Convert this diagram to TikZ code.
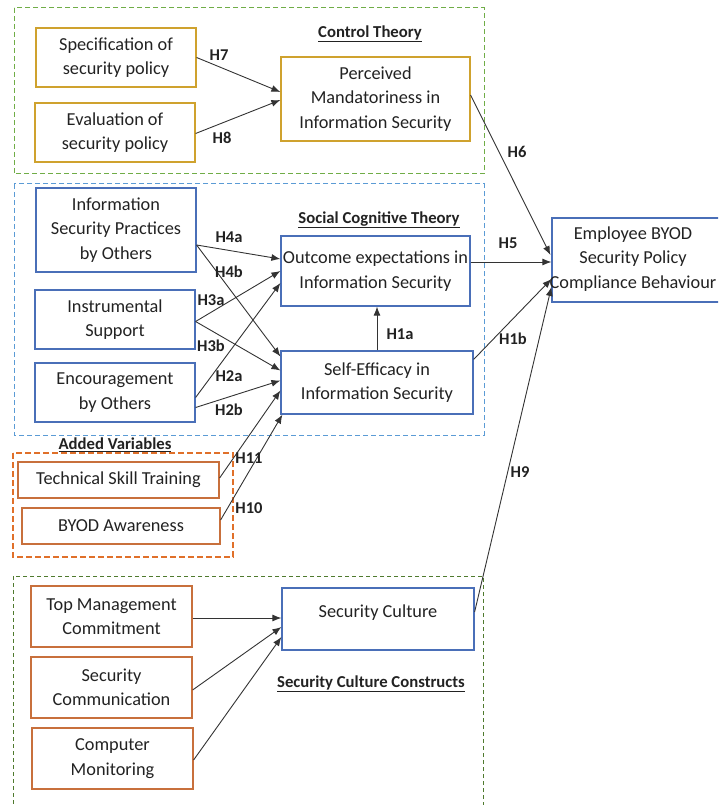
\documentclass[tikz,border=0pt]{standalone}
\usepackage{fontspec}
\setmainfont{Carlito}
\usetikzlibrary{arrows.meta,calc}
\definecolor{goldc}{HTML}{CFA22E}
\definecolor{bluec}{HTML}{4A6FB8}
\definecolor{brownc}{HTML}{C8703C}
\definecolor{lgreen}{HTML}{70AD47}
\definecolor{dgreen}{HTML}{4F7A2E}
\definecolor{lblue}{HTML}{5B9BD5}
\definecolor{orangec}{HTML}{E0702A}
\definecolor{txt}{HTML}{222222}
\tikzset{
  box/.style={draw, line width=1.2pt, align=center, inner sep=2pt, text=txt,
    font=\fontsize{18.3}{24.5}\selectfont},
  goldbox/.style={box, draw=goldc},
  bluebox/.style={box, draw=bluec},
  brownbox/.style={box, draw=brownc},
  grp/.style={line width=1pt, dash pattern=on 5pt off 3pt},
  title/.style={font=\fontsize{16.7}{20}\selectfont\bfseries, text=txt},
  hlab/.style={font=\fontsize{16.5}{20}\selectfont\bfseries, text=txt, inner sep=0pt},
  plain/.style={text=txt, font=\fontsize{18.3}{24.5}\selectfont, inner sep=0pt, align=center},
  arr/.style={-{Latex[length=9pt,width=7pt]}, line width=0.9pt, draw=black!80},
}
\begin{document}
\begin{tikzpicture}[x=1pt,y=-1pt]
\useasboundingbox (0,0) rectangle (718,805);
\clip (0,0) rectangle (718,805);
% group containers
\draw[grp, draw=lgreen] (14,8) rectangle (484,174);
\draw[grp, draw=lblue] (14,184) rectangle (484,435);
\draw[grp, draw=orangec, line width=1.2pt, dash pattern=on 6pt off 3pt] (13,453) rectangle (233,557);
\draw[grp, draw=dgreen, dash pattern=on 4pt off 3pt] (13,576) rectangle (483,820);
% titles
\node[title] (tct) at (370,34) {\underline{Control Theory}};
\node[title] (tsct) at (379,220) {\underline{Social Cognitive Theory}};
\node[title] (tav) at (115,445) {\underline{Added Variables}};
\node[title] (tscc) at (371,684) {\underline{Security Culture Constructs}};
% boxes
\node[goldbox, minimum width=160pt, minimum height=59pt] (spec) at (116,57.5) {Specification of\\security policy};
\node[goldbox, minimum width=160pt, minimum height=59pt] (eval) at (115,132.5) {Evaluation of\\security policy};
\node[goldbox, minimum width=189pt, minimum height=84pt] (pmis) at (375.5,99) {Perceived\\Mandatoriness in\\Information Security};
\node[bluebox, minimum width=160pt, minimum height=84pt] (isp) at (116,230) {Information\\Security Practices\\by Others};
\node[bluebox, minimum width=160pt, minimum height=59pt] (instr) at (115,319.5) {Instrumental\\Support};
\node[bluebox, minimum width=160pt, minimum height=59pt] (enc) at (115,392.5) {Encouragement\\by Others};
\node[bluebox, minimum width=189pt, minimum height=70pt] (out) at (375.5,271) {Outcome expectations in\\Information Security};
\node[bluebox, minimum width=192pt, minimum height=63pt] (se) at (377,382.5) {Self-Efficacy in\\Information Security};
\node[brownbox, minimum width=201pt, minimum height=36pt] (tech) at (118.5,480) {Technical Skill Training};
\node[brownbox, minimum width=198pt, minimum height=36pt] (byod) at (121,526) {BYOD Awareness};
\node[brownbox, minimum width=161pt, minimum height=61pt] (tmc) at (111.5,616.5) {Top Management\\Commitment};
\node[brownbox, minimum width=161pt, minimum height=61pt] (scomm) at (111.5,687.5) {Security\\Communication};
\node[brownbox, minimum width=161pt, minimum height=61pt] (cmon) at (112.5,758.5) {Computer\\Monitoring};
\node[bluebox, minimum width=192pt, minimum height=62pt] (sc) at (378,619) {};
\node[plain] (sclab) at (378,613) {Security Culture};
\node[bluebox, minimum width=170pt, minimum height=84pt] (emp) at (637,260) {};
\node[plain] (emplab) at (633,259) {Employee BYOD\\Security Policy\\Compliance Behaviour};
% arrows
\draw[arr] (spec.east) -- ($(pmis.west)+(0,-7)$);
\draw[arr] ($(eval.east)+(0,1)$) -- ($(pmis.west)+(0,1)$);
\draw[arr] ($(pmis.east)+(0,-4)$) -- ($(emp.west)+(-1,-5)$);
\draw[arr] ($(isp.east)+(0,15)$) -- ($(out.west)+(0,-12)$);
\draw[arr] ($(isp.east)+(0,15)$) -- ($(se.west)+(0,-26)$);
\draw[arr] ($(instr.east)+(0,2)$) -- (out.west);
\draw[arr] ($(instr.east)+(0,2)$) -- ($(se.west)+(0,-12)$);
\draw[arr] ($(enc.east)+(0,5)$) -- ($(out.west)+(0,12)$);
\draw[arr] ($(enc.east)+(0,15)$) -- ($(se.west)+(0,-2)$);
\draw[arr] ($(tech.east)+(0,-2)$) -- ($(se.west)+(0,8)$);
\draw[arr] ($(byod.east)+(0,-6)$) -- ($(se.south west)+(2,0)$);
\draw[arr] (se.north) -- (se.north |- out.south);
\draw[arr] ($(out.east)+(0,-9)$) -- ($(emp.west)+(0,2)$);
\draw[arr] ($(se.east)+(0,-23)$) -- ($(emp.west)+(0,19)$);
\draw[arr] ($(sc.east)+(0,-7)$) -- ($(emp.west)+(0,27)$);
\draw[arr] ($(tmc.east)+(0,1.5)$) -- ($(sc.west)+(0,-1)$);
\draw[arr] ($(scomm.east)+(0,2.5)$) -- ($(sc.west)+(0,8)$);
\draw[arr] ($(cmon.east)+(0,1.5)$) -- ($(sc.west)+(0,18)$);
% labels
\node[hlab] (h7) at (219,55) {H7};
\node[hlab] (h8) at (222,138) {H8};
\node[hlab] (h6) at (517,152) {H6};
\node[hlab] (h5) at (508,243) {H5};
\node[hlab] (h4a) at (229,237) {H4a};
\node[hlab] (h4b) at (229,272) {H4b};
\node[hlab] (h3a) at (211,300) {H3a};
\node[hlab] (h3b) at (211,346) {H3b};
\node[hlab] (h2a) at (229,376) {H2a};
\node[hlab] (h2b) at (229,410) {H2b};
\node[hlab] (h1a) at (400,334) {H1a};
\node[hlab] (h1b) at (513,339) {H1b};
\node[hlab] (h11) at (249,458) {H11};
\node[hlab] (h10) at (249,508) {H10};
\node[hlab] (h9) at (520,472) {H9};
\end{tikzpicture}
\end{document}
